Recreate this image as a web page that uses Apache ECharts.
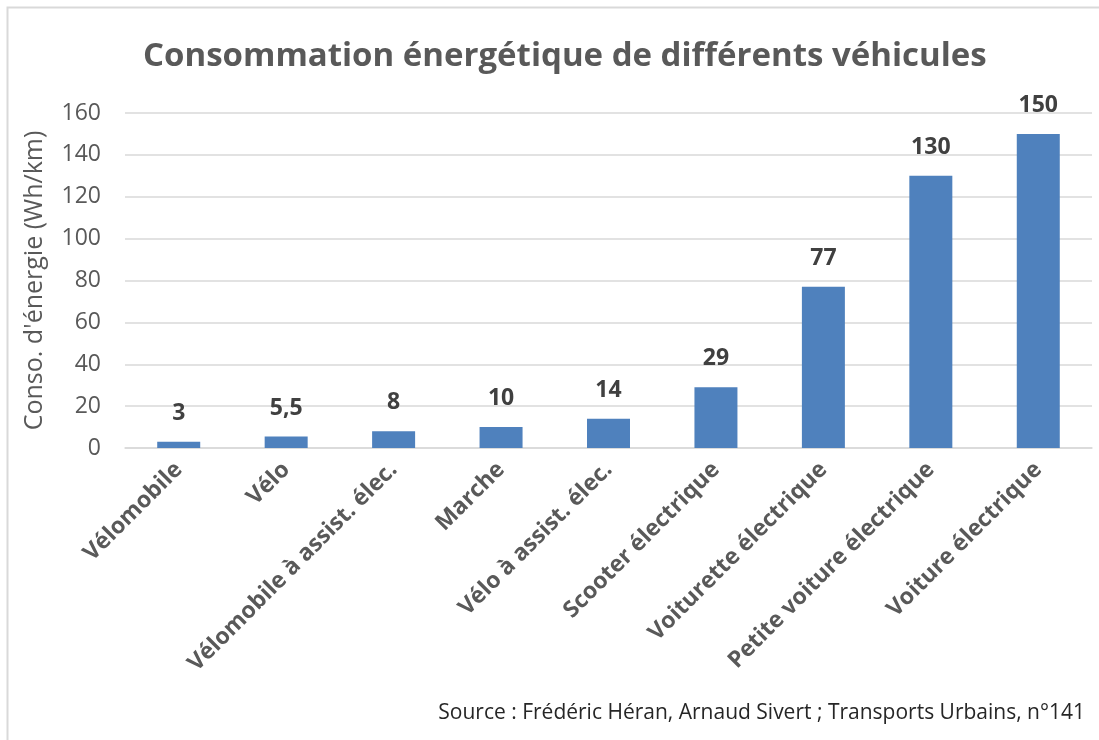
<!DOCTYPE html>
<html>
<head>
<meta charset="utf-8">
<script src="https://cdn.jsdelivr.net/npm/echarts@6/dist/echarts.min.js"></script>
<style>
html, body { margin: 0; padding: 0; background: #fff; }
#chart { width: 1099px; height: 740px; }
</style>
</head>
<body>
<div id="chart"></div>
<script>
// données
var vehicules = ['Vélomobile', 'Vélo', 'Vélomobile à assist. élec.', 'Marche', 'Vélo à assist. élec.',
    'Scooter électrique', 'Voiturette électrique', 'Petite voiture électrique', 'Voiture électrique'];
var conso = [3, 5.5, 8, 10, 14, 29, 77, 130, 150];
var yTicks = [0, 20, 40, 60, 80, 100, 120, 140, 160];

var chart = echarts.init(document.getElementById('chart'));
var font = '"Open Sans", "Noto Sans", sans-serif';

var option = {
    backgroundColor: '#fff',
    animation: false,
    title: {
        text: 'Consommation énergétique de différents véhicules',
        left: 138,
        top: 35,
        textStyle: {
            fontFamily: font,
            fontSize: 33,
            fontWeight: 'bold',
            color: '#595959'
        }
    },
    graphic: [{
        type: 'rect',
        shape: { x: 7.5, y: 7.5, width: 1200, height: 900 },
        style: { fill: 'none', stroke: '#d9d9d9', lineWidth: 2 },
        silent: true
    }, {
        type: 'text',
        right: 14,
        top: 703,
        style: {
            text: 'Source : Frédéric Héran, Arnaud Sivert ; Transports Urbains, n°141',
            font: '21px ' + font,
            fill: '#262626'
        }
    }],
    grid: {
        left: 125,
        right: 7,
        top: 113,
        bottom: 292
    },
    xAxis: {
        type: 'category',
        data: vehicules,
        axisLine: { show: true, lineStyle: { color: '#d9d9d9', width: 1.5 } },
        axisTick: { show: false },
        axisLabel: {
            interval: 0,
            rotate: 45,
            margin: 18,
            fontFamily: font,
            fontSize: 23,
            fontWeight: 'bold',
            color: '#595959'
        }
    },
    yAxis: {
        type: 'value',
        min: yTicks[0],
        max: yTicks[yTicks.length - 1],
        interval: yTicks[1] - yTicks[0],
        name: "Conso. d'énergie (Wh/km)",
        nameLocation: 'middle',
        nameGap: 78,
        nameTextStyle: {
            fontFamily: font,
            fontSize: 25,
            color: '#595959'
        },
        axisLine: { show: false },
        axisTick: { show: false },
        axisLabel: {
            margin: 24,
            fontFamily: font,
            fontSize: 23,
            color: '#595959'
        },
        splitLine: { lineStyle: { color: '#d9d9d9', width: 1.5 } }
    },
    series: [{
        type: 'bar',
        data: conso,
        barWidth: 43,
        itemStyle: { color: '#4f81bd' },
        label: {
            show: true,
            position: 'top',
            distance: 17,
            fontFamily: font,
            fontSize: 23,
            fontWeight: 'bold',
            color: '#404040',
            formatter: function (p) {
                return String(p.value).replace('.', ',');
            }
        }
    }]
};

chart.setOption(option);
</script>
</body>
</html>
